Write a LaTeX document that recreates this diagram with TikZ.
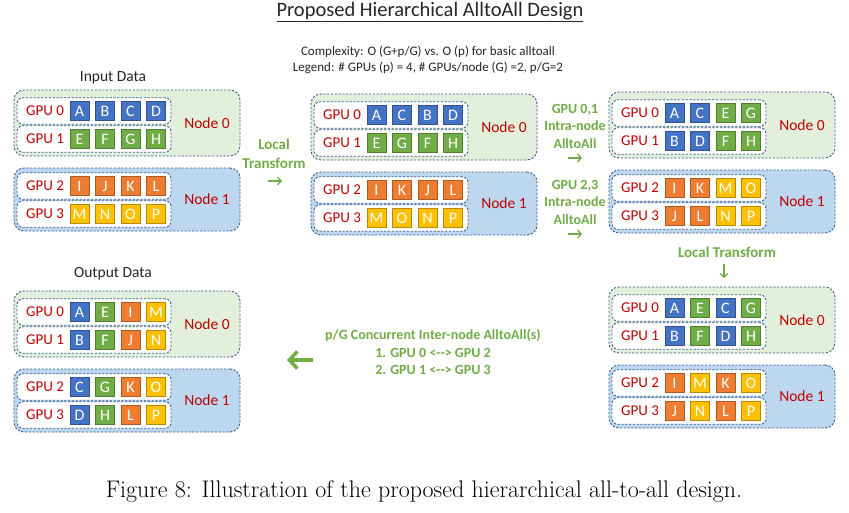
\documentclass[tikz,border=0pt]{standalone}
\usepackage{fontspec}
\newfontfamily\carl{Carlito}
\usetikzlibrary{arrows.meta}

\definecolor{cB}{HTML}{4472C4}
\definecolor{cG}{HTML}{70AD47}
\definecolor{cO}{HTML}{ED7D31}
\definecolor{cY}{HTML}{FFC000}
\definecolor{nodeA}{HTML}{E2EFDA}
\definecolor{nodeB}{HTML}{BDD7EE}
\definecolor{dashc}{HTML}{3B5E91}
\definecolor{lblred}{HTML}{C00000}
\definecolor{txtgreen}{HTML}{70AD47}
\definecolor{txtdark}{HTML}{262626}

\tikzset{
  nodebox/.style={draw=dashc, line width=0.9pt, dash pattern=on 2.2pt off 1.6pt,
    rounded corners=10pt, inner sep=0pt},
  gpubox/.style={draw=dashc, line width=0.9pt, dash pattern=on 2.2pt off 1.6pt,
    rounded corners=6pt, fill=white, inner sep=0pt, minimum width=154pt, minimum height=26.5pt},
  sq/.style={draw=#1!72!black, fill=#1, line width=0.8pt, minimum size=19pt, inner sep=0pt,
    text=white, font=\carl\fontsize{16}{16}\selectfont},
  gpulbl/.style={text=lblred, font=\carl\fontsize{15}{15}\selectfont, inner sep=0pt},
  nodelbl/.style={text=lblred, font=\carl\fontsize{15.5}{15.5}\selectfont, inner sep=0pt},
  greentxt/.style={text=txtgreen, font=\carl\bfseries\fontsize{14}{17.5}\selectfont, align=center, inner sep=0pt},
  greenbig/.style={greentxt, font=\carl\bfseries\fontsize{15}{19}\selectfont},
  darktxt/.style={text=txtdark, font=\carl\fontsize{15.5}{15.5}\selectfont, inner sep=0pt},
  smallarrow/.style={draw=txtgreen, line width=1.2pt, -{Straight Barb[length=3.8pt,width=8pt]}},
  bigarrow/.style={draw=txtgreen, line width=3.5pt, -{Straight Barb[length=8pt,width=17pt]}},
}

% one GPU row: group name, row index, y offset, list of letter/colour pairs
\newcommand\gpurow[4]{%
  \node[gpubox] (#1-g#2) at (94,#3) {};
  \node[gpulbl] (#1-gl#2) at (45,#3) {GPU #2};
  \foreach \t/\c [count=\k] in {#4} {
    \node[sq=\c] (#1-g#2-\k) at ({54+25.5*\k},#3) {\t};
  }%
}

% one compute node pair (Node 0 and Node 1) with four GPUs
\newcommand\drawgroup[7]{%
  \begin{scope}[shift={(#2,#3)}]
    \node[nodebox, fill=nodeA, minimum width=226pt, minimum height=66pt] (#1-n0) at (127,12) {};
    \node[nodebox, fill=nodeB, minimum width=226pt, minimum height=63pt] (#1-n1) at (127,88.5) {};
    \node[nodelbl] (#1-nl0) at (207,12) {Node 0};
    \node[nodelbl] (#1-nl1) at (207,88.5) {Node 1};
    \gpurow{#1}{0}{0}{#4}
    \gpurow{#1}{1}{28}{#5}
    \gpurow{#1}{2}{75}{#6}
    \gpurow{#1}{3}{103}{#7}
  \end{scope}%
}

\begin{document}
\begin{tikzpicture}[x=1pt, y=-1pt]
  \useasboundingbox (0,0) rectangle (849,512);
  \fill[white] (0,0) rectangle (849,512);

  % headings
  \node[text=txtdark, font=\carl\fontsize{20.5}{20.5}\selectfont, inner sep=0pt] (title) at (430,12)
    {\underline{Proposed Hierarchical AlltoAll Design}};
  \node[text=txtdark, font=\carl\fontsize{13}{16}\selectfont, align=center, inner sep=0pt] (legend) at (428,60)
    {Complexity: O (G+p/G) vs. O (p) for basic alltoall\\Legend: \# GPUs (p) = 4, \# GPUs/node (G) =2, p/G=2};

  \node[darktxt] (inlbl) at (113,78) {Input Data};
  \node[darktxt] (outlbl) at (113,274) {Output Data};

  % data layouts
  \drawgroup{in}{0}{111}{A/cB,B/cB,C/cB,D/cB}{E/cG,F/cG,G/cG,H/cG}{I/cO,J/cO,K/cO,L/cO}{M/cY,N/cY,O/cY,P/cY}
  \drawgroup{mid}{297}{115}{A/cB,C/cB,B/cB,D/cB}{E/cG,G/cG,F/cG,H/cG}{I/cO,K/cO,J/cO,L/cO}{M/cY,O/cY,N/cY,P/cY}
  \drawgroup{rt}{595}{113}{A/cB,C/cB,E/cG,G/cG}{B/cB,D/cB,F/cG,H/cG}{I/cO,K/cO,M/cY,O/cY}{J/cO,L/cO,N/cY,P/cY}
  \drawgroup{rb}{595}{308}{A/cB,E/cG,C/cB,G/cG}{B/cB,F/cG,D/cB,H/cG}{I/cO,M/cY,K/cO,O/cY}{J/cO,N/cY,L/cO,P/cY}
  \drawgroup{out}{0}{312}{A/cB,E/cG,I/cO,M/cY}{B/cB,F/cG,J/cO,N/cY}{C/cB,G/cG,K/cO,O/cY}{D/cB,H/cG,L/cO,P/cY}

  % step labels
  \node[greenbig] (step1) at (274,154) {Local\\Transform};
  \coordinate (s1a) at (268,181);
  \coordinate (s1b) at (282,181);
  \draw[smallarrow] (s1a) -- (s1b);

  \node[greentxt] (step2a) at (575,126) {GPU 0,1\\Intra-node\\AlltoAll};
  \coordinate (s2a) at (568,158);
  \coordinate (s2b) at (582,158);
  \draw[smallarrow] (s2a) -- (s2b);

  \node[greentxt] (step2b) at (575,202) {GPU 2,3\\Intra-node\\AlltoAll};
  \coordinate (s3a) at (568,234);
  \coordinate (s3b) at (582,234);
  \draw[smallarrow] (s3a) -- (s3b);

  \node[greenbig] (step3) at (727,252) {Local Transform};
  \coordinate (s4a) at (724,264);
  \coordinate (s4b) at (724,278);
  \draw[smallarrow] (s4a) -- (s4b);

  \node[greentxt] (step4) at (433,352)
    {p/G Concurrent Inter-node AlltoAll(s)\\1. GPU 0 <{-}{-}> GPU 2\\2. GPU 1 <{-}{-}> GPU 3};
  \coordinate (s5a) at (313,360);
  \coordinate (s5b) at (287,360);
  \draw[bigarrow] (s5a) -- (s5b);

  % caption
  \node[inner sep=0pt, font=\fontsize{24}{24}\selectfont] (caption) at (424,492)
    {Figure 8: Illustration of the proposed hierarchical all-to-all design.};
\end{tikzpicture}
\end{document}
